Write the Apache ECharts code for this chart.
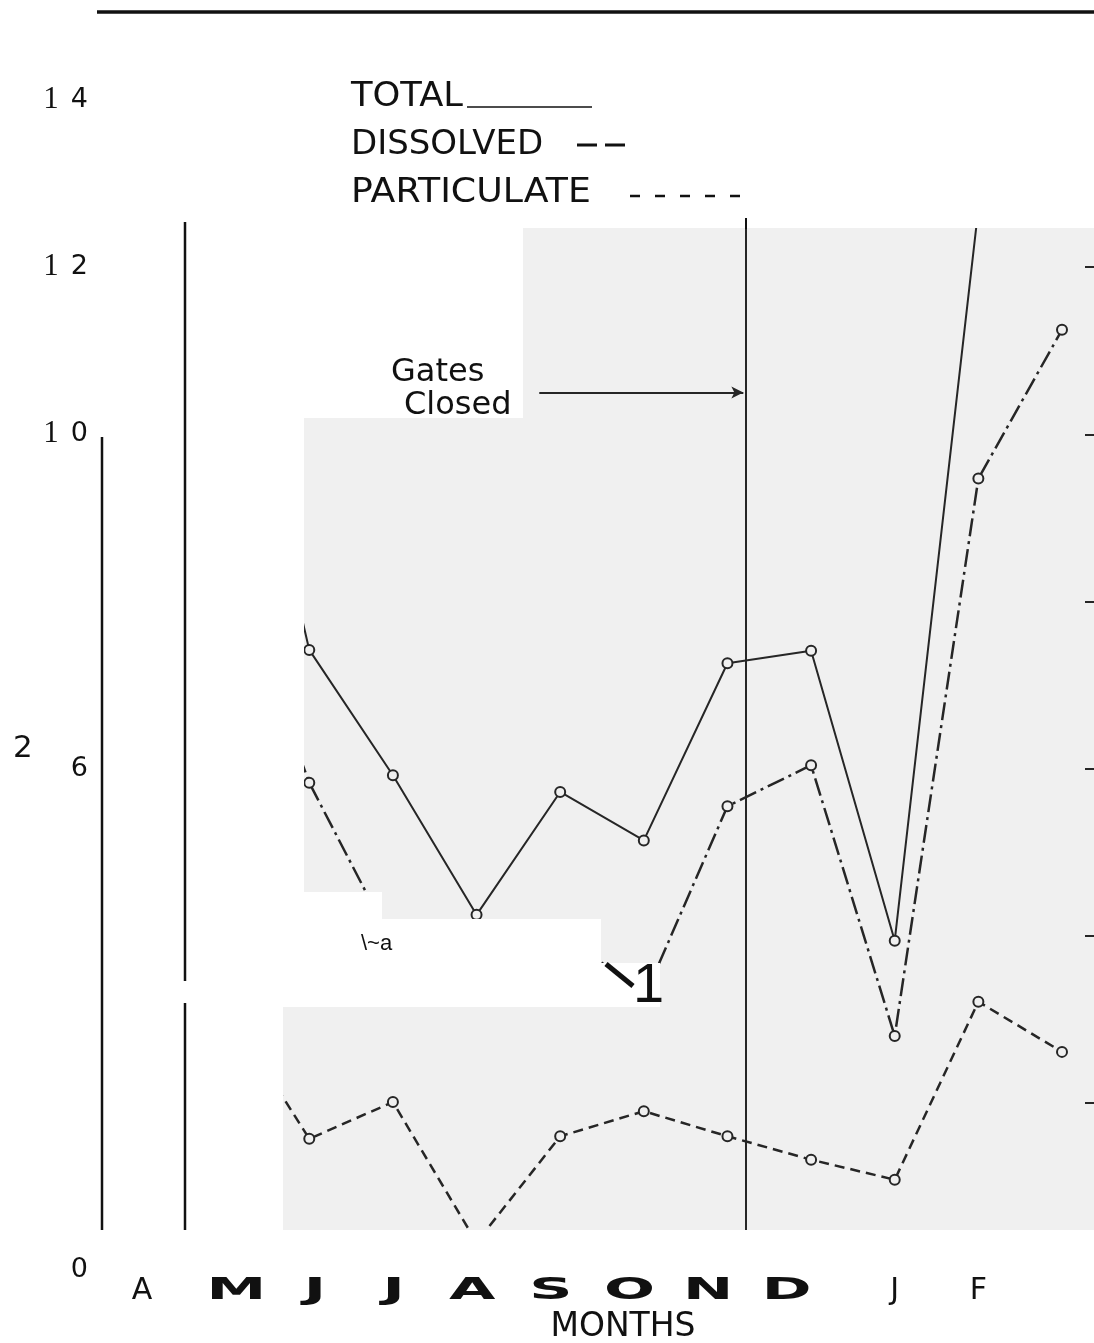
<!DOCTYPE html>
<html>
<head>
<meta charset="utf-8">
<title>Total, dissolved and particulate by month</title>
<script src="https://cdn.jsdelivr.net/npm/echarts@6/dist/echarts.min.js"></script>
<style>
  html, body { margin: 0; padding: 0; background: #ffffff; }
  #chart { width: 1094px; height: 1343px; }
</style>
</head>
<body>
<div id="chart"></div>
<script>
// Month index 0..11 runs April through the following March
const months = ['A', 'M', 'J', 'J', 'A', 'S', 'O', 'N', 'D', 'J', 'F', 'M'];
// Letters printed in the plain face under the main axis
const plainLetters = ['A', '', '', '', '', '', '', '', '', 'J', 'F', ''];
// Letters printed in the wide face (May through December)
const wideLetters = ['M', 'J', 'J', 'A', 'S', 'O', 'N', 'D'];
// Vertical tick labels for 0, 2, 4 ... 14
const yTickText = ['0', '', '', '6', '', '1 0', '1 2', '1 4'];

const total       = [null, 11.75, 7.42, 5.92, 4.25, 5.72, 5.14, 7.26, 7.41, 3.94, 12.7, null];
const dissolved   = [null, 8.6, 5.83, 3.9, 3.9, 4.1, 3.25, 5.55, 6.04, 2.80, 9.47, 11.25];
const particulate = [null, 3.15, 1.57, 2.01, 0.33, 1.60, 1.90, 1.60, 1.32, 1.08, 3.21, 2.61];

// Gates closed part way through November
const gatesClosed = 7.22;
const arrowFrom = 4.75;
const arrowLevel = 10.5;

const INK = '#262626';
const PAPER = '#f0f0f0';

const chart = echarts.init(document.getElementById('chart'), null, { renderer: 'canvas' });

function pairs(arr) { return arr.map((v, i) => [i, v]); }

const pointStyle = { color: PAPER, borderColor: INK, borderWidth: 2 };

chart.setOption({
  animation: false,
  backgroundColor: '#ffffff',
  grid: [
    { left: 142, right: 32, top: 100, bottom: 73, containLabel: false, outerBoundsMode: 'none' },
    { left: 197, width: 629, top: 1276, height: 2, containLabel: false, outerBoundsMode: 'none', show: false }
  ],
  xAxis: [
    {
      type: 'value', gridIndex: 0, min: 0, max: 11, interval: 1,
      axisLine: { show: false }, axisTick: { show: false }, splitLine: { show: false },
      axisLabel: {
        show: true, margin: 6, color: '#111', fontFamily: 'DejaVu Sans', fontSize: 30,
        showMinLabel: true, showMaxLabel: true, hideOverlap: false,
        formatter: v => plainLetters[v] || ''
      },
      name: 'MONTHS', nameLocation: 'middle', nameGap: 38,
      nameTextStyle: { color: '#111', fontFamily: 'DejaVu Sans', fontSize: 33, padding: [0, 0, 0, 42] }
    },
    {
      type: 'category', gridIndex: 1, data: wideLetters, show: false
    }
  ],
  yAxis: [
    {
      type: 'value', gridIndex: 0, min: 0, max: 14, interval: 2, position: 'left',
      axisLine: { show: false }, axisTick: { show: false }, splitLine: { show: false },
      axisLabel: {
        show: true, margin: 54, color: '#111', showMinLabel: true, showMaxLabel: true,
        formatter: v => {
          const s = yTickText[Math.round(v / 2)];
          if (!s) return '';
          const parts = s.split(' ');
          if (parts.length === 2) return '{one|' + parts[0] + '}{num|' + parts[1] + '}';
          return '{num|' + s + '}';
        },
        rich: {
          one: { fontFamily: 'Liberation Serif', fontSize: 31, color: '#111', padding: [0, 12, 0, 0] },
          num: { fontFamily: 'DejaVu Sans', fontSize: 27, color: '#111' }
        }
      }
    },
    {
      type: 'value', gridIndex: 0, min: 0, max: 14, interval: 2, position: 'right', offset: 32, z: 3,
      axisLine: { show: false }, splitLine: { show: false }, axisLabel: { show: false },
      axisTick: { show: true, inside: true, length: 9, lineStyle: { color: INK, width: 2 } }
    },
    { type: 'value', gridIndex: 1, show: false }
  ],
  series: [
    {
      name: 'TOTAL', type: 'line', xAxisIndex: 0, yAxisIndex: 0, z: 2,
      data: pairs(total), symbol: 'circle', symbolSize: 10, itemStyle: pointStyle,
      lineStyle: { color: INK, width: 2 }, connectNulls: false, silent: true,
      markLine: {
        silent: true, animation: false, symbol: ['none', 'none'], label: { show: false },
        data: [
          { xAxis: gatesClosed, lineStyle: { color: INK, width: 2, type: 'solid' } },
          [
            { coord: [arrowFrom, arrowLevel], symbol: 'none', lineStyle: { color: INK, width: 2, type: 'solid' } },
            { coord: [gatesClosed - 0.03, arrowLevel], symbol: 'arrow', symbolSize: [9, 12] }
          ]
        ]
      }
    },
    {
      name: 'DISSOLVED', type: 'line', xAxisIndex: 0, yAxisIndex: 0, z: 2,
      data: pairs(dissolved), symbol: 'circle', symbolSize: 10, itemStyle: pointStyle,
      lineStyle: { color: INK, width: 2.5, type: [18, 5, 3, 5] }, silent: true
    },
    {
      name: 'PARTICULATE', type: 'line', xAxisIndex: 0, yAxisIndex: 0, z: 2,
      data: pairs(particulate), symbol: 'circle', symbolSize: 10, itemStyle: pointStyle,
      lineStyle: { color: INK, width: 2.5, type: [10, 6] }, silent: true
    }
  ]
});

// Paper patches behind the curves
const paperPatches = [
  [523, 228, 1094, 418],
  [304, 418, 1094, 892],
  [382, 892, 1094, 919],
  [601, 919, 1094, 963],
  [660, 963, 1094, 1007],
  [283, 1007, 1094, 1230]
];
// Blank areas laid over the plot
const blankPatches = [
  [140, 95, 1094, 228],
  [140, 228, 523, 418],
  [140, 418, 304, 1007],
  [140, 1007, 283, 1230],
  [304, 892, 382, 919],
  [304, 919, 601, 963],
  [304, 963, 660, 1007],
  [140, 1230, 1094, 1274]
];

function rect(b, fill, z) {
  return { type: 'rect', z: z, silent: true,
    shape: { x: b[0], y: b[1], width: b[2] - b[0], height: b[3] - b[1] },
    style: { fill: fill } };
}
function seg(x1, y1, x2, y2, w, z, dash) {
  return { type: 'line', z: z, silent: true,
    shape: { x1: x1, y1: y1, x2: x2, y2: y2 },
    style: { stroke: '#111', lineWidth: w, lineDash: dash || null } };
}
function label(x, y, text, size, opts) {
  opts = opts || {};
  return { type: 'text', z: 20, silent: true, x: x, y: y, scaleX: opts.scaleX || 1,
    style: { text: text, fill: '#111', fontSize: size, fontFamily: opts.family || 'DejaVu Sans',
      fontWeight: opts.weight || 'normal',
      align: opts.align || 'left', textAlign: opts.align || 'left',
      verticalAlign: 'middle', textVerticalAlign: 'middle' } };
}

const elements = [];
paperPatches.forEach(b => elements.push(rect(b, PAPER, 1)));
blankPatches.forEach(b => elements.push(rect(b, '#ffffff', 10)));

// Rules and frame strokes
elements.push(seg(97, 12, 1094, 12, 3.5, 20));
elements.push(seg(102, 437, 102, 1230, 2.5, 20));
elements.push(seg(185, 222, 185, 981, 2.5, 20));
elements.push(seg(185, 1003, 185, 1230, 2.5, 20));
elements.push(seg(746, 218, 746, 229, 2, 20));

// Key
elements.push(label(351, 97, 'TOTAL', 33, { scaleX: 1.07 }));
elements.push(seg(467, 107, 592, 107, 1.5, 20));
elements.push(label(351, 145, 'DISSOLVED', 33, { scaleX: 1.03 }));
elements.push(seg(577, 145, 626, 145, 3, 20, [20, 8]));
elements.push(label(351, 193, 'PARTICULATE', 33, { scaleX: 1.1 }));
elements.push(seg(630, 196, 742, 196, 2.5, 20, [10, 15]));

// Annotation
elements.push(label(391, 373, 'Gates', 32));
elements.push(label(404, 406, 'Closed', 32));

// Stray marks
elements.push(label(13, 749, '2', 31));
elements.push(label(361, 944, '\\~a', 22, { family: 'Liberation Sans' }));
elements.push(seg(606, 964, 633, 986, 5, 20));
elements.push(label(633, 987, '1', 56, { family: 'Liberation Sans' }));

// Wide month letters, centred on the bands of the second category axis
wideLetters.forEach((t, i) => {
  const px = chart.convertToPixel({ xAxisIndex: 1 }, i);
  elements.push(label(px, 1291, t, 30, { align: 'center', weight: 'bold', scaleX: 2.0 }));
});

chart.setOption({ graphic: { elements: elements } });
</script>
</body>
</html>
